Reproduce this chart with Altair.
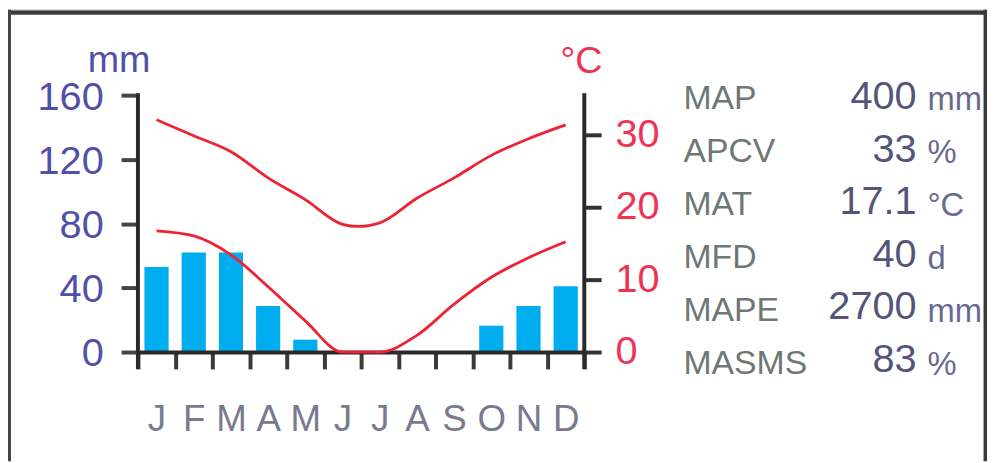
import altair as alt
import pandas as pd

# ---- data ----
months = ["Jan", "Feb", "Mar", "Apr", "May", "Jun", "Jul", "Aug", "Sep", "Oct", "Nov", "Dec"]
rain_mm = [53, 62, 62, 28.7, 7.7, 0, 0, 0, 0, 16.4, 28.7, 41]
t_max = [32.0, 29.8, 27.6, 24.0, 21.0, 17.6, 17.8, 21.2, 24.0, 27.1, 29.4, 31.3]
t_min = [16.7, 16.0, 13.4, 9.0, 4.3, 0.0, 0.0, 2.3, 6.6, 10.3, 13.0, 15.2]
rain_ticks = [0, 40, 80, 120, 160]
temp_ticks = [0, 10, 20, 30]

stat_labels = ["MAP", "APCV", "MAT", "MFD", "MAPE", "MASMS"]
stat_values = ["400", "33", "17.1", "40", "2700", "83"]
stat_units = ["mm", "%", "°C", "d", "mm", "%"]

# ---- tables ----
df_rain = pd.DataFrame({"month": months, "rain": rain_mm})
df_tmax = pd.DataFrame({"month": months, "t": t_max})
df_tmin = pd.DataFrame({"month": months, "t": t_min})
df_stats = pd.DataFrame({"idx": list(range(len(stat_labels))), "label": stat_labels,
                         "value": stat_values, "unit": stat_units})
one = pd.DataFrame({"k": [0]})

FONT = "Liberation Sans"
W, H = 450, 259
BLUE_TXT = "#5050a8"
RED = "#ee2233"
RED_TXT = "#ee3355"
T_DOMAIN = [0, 35.4]

x_scale = alt.Scale(paddingInner=0, paddingOuter=0)
x_axis = alt.Axis(title=None, domain=False, labelAngle=0,
                  labelExpr="isValid(datum.value) ? substring(datum.value, 0, 1) : ''",
                  tickBand="extent", tickSize=17, tickWidth=4, tickColor="#3a3a3a",
                  labelFont=FONT, labelFontSize=37, labelColor="#7a7a8e",
                  labelPadding=33, grid=False)

bars = alt.Chart(df_rain).mark_bar(color="#00adee", width=alt.RelativeBandSize(0.65)).encode(
    x=alt.X("month:N", sort=months, scale=x_scale, axis=x_axis),
    y=alt.Y("rain:Q", scale=alt.Scale(domain=[0, 160], nice=False),
            axis=alt.Axis(orient="left", title=None, values=rain_ticks, domain=False, grid=False,
                          tickSize=17, tickWidth=4, tickColor="#444444",
                          labelFont=FONT, labelFontSize=40, labelColor=BLUE_TXT,
                          labelPadding=18, labelOffset=2)),
)

line_max = alt.Chart(df_tmax).mark_line(color=RED, strokeWidth=2.8, interpolate="catmull-rom").encode(
    x=alt.X("month:N", sort=months, scale=x_scale, axis=x_axis, bandPosition=0.5),
    y=alt.Y("t:Q", scale=alt.Scale(domain=T_DOMAIN, nice=False),
            axis=alt.Axis(orient="right", title=None, values=temp_ticks, domain=False, grid=False,
                          tickSize=17, tickWidth=4, tickColor="#333333",
                          labelFont=FONT, labelFontSize=40, labelColor=RED_TXT,
                          labelPadding=14)),
)
line_min = alt.Chart(df_tmin).mark_line(color=RED, strokeWidth=2.8, interpolate="monotone").encode(
    x=alt.X("month:N", sort=months, scale=x_scale, axis=x_axis, bandPosition=0.5),
    y=alt.Y("t:Q", scale=alt.Scale(domain=T_DOMAIN, nice=False), axis=None),
)

base1 = alt.Chart(one)
AX = "#2a2a2a"
left_line = base1.mark_rule(color=AX, strokeWidth=4).encode(
    x=alt.value(0), y=alt.value(-2), y2=alt.value(276))
right_line = base1.mark_rule(color=AX, strokeWidth=4).encode(
    x=alt.value(W), y=alt.value(-2), y2=alt.value(276))
bottom_line = base1.mark_rule(color=AX, strokeWidth=4).encode(
    x=alt.value(-2), x2=alt.value(W + 2), y=alt.value(H + 0.5))

mm_title = base1.mark_text(text="mm", font=FONT, fontSize=38, color=BLUE_TXT,
                           align="center", baseline="alphabetic").encode(
    x=alt.value(-19), y=alt.value(-23))
degc_title = base1.mark_text(text="°C", font=FONT, fontSize=38, color=RED_TXT,
                             align="center", baseline="alphabetic").encode(
    x=alt.value(447), y=alt.value(-22))

lab_scale = alt.Scale(domain=[0, 5], range=[14, 14 + 53.5 * 5])
val_scale = alt.Scale(domain=[0, 5], range=[14, 14 + 53 * 5])
unit_scale = alt.Scale(domain=[0, 5], range=[15, 15 + 53.5 * 5])

stat_lab = alt.Chart(df_stats).mark_text(align="left", baseline="alphabetic", font=FONT,
                                         fontSize=34, color="#6f7775").encode(
    x=alt.value(550), y=alt.Y("idx:Q", scale=lab_scale, axis=None), text="label:N")
stat_val = alt.Chart(df_stats).mark_text(align="right", baseline="alphabetic", font=FONT,
                                         fontSize=40, color="#55557a").encode(
    x=alt.value(785), y=alt.Y("idx:Q", scale=val_scale, axis=None), text="value:N")
stat_unit = alt.Chart(df_stats).mark_text(align="left", baseline="alphabetic", font=FONT,
                                          fontSize=33, color="#6a6a90").encode(
    x=alt.value(796), y=alt.Y("idx:Q", scale=unit_scale, axis=None), text="unit:N")

# frame around the figure
frame_top_gray = base1.mark_rect(color="#7a7a7a").encode(
    x=alt.value(-131), x2=alt.value(856), y=alt.value(-86), y2=alt.value(-85))
frame_top = base1.mark_rect(color="#3a3a3a").encode(
    x=alt.value(-131), x2=alt.value(856), y=alt.value(-85), y2=alt.value(-81))
frame_left = base1.mark_rect(color="#454545").encode(
    x=alt.value(-131), x2=alt.value(-128), y=alt.value(-86), y2=alt.value(369))
frame_right = base1.mark_rect(color="#3a3a3a").encode(
    x=alt.value(852.5), x2=alt.value(856), y=alt.value(-86), y2=alt.value(369))

chart = alt.layer(
    bars, left_line, right_line, bottom_line, line_max, line_min,
    mm_title, degc_title, stat_lab, stat_val, stat_unit,
    frame_top_gray, frame_top, frame_left, frame_right,
).resolve_scale(y="independent").properties(
    width=W, height=H,
    autosize=alt.AutoSizeParams(type="none"),
    padding={"left": 131, "top": 86, "right": 406, "bottom": 110},
    background="white",
).configure_view(stroke=None)

chart.save("out.html", embed_options={"renderer": "svg", "actions": False})
